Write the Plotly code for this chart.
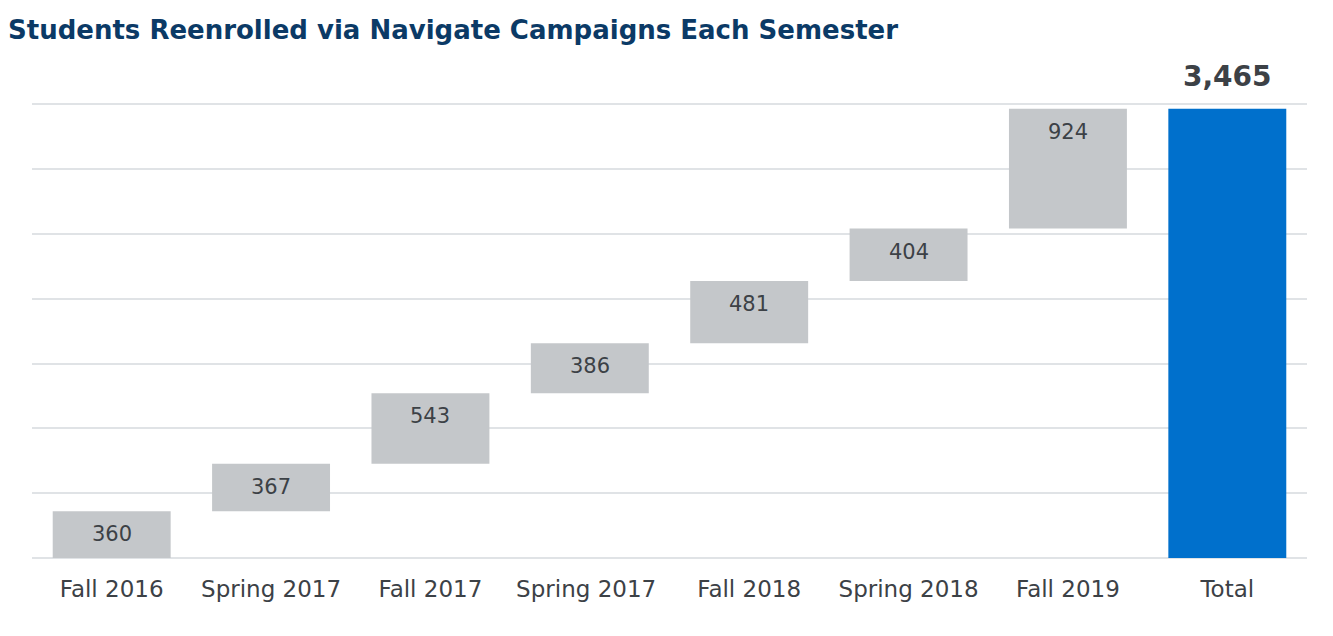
import plotly.graph_objects as go

# semesters and reenrolled students
semesters = ["Fall 2016", "Spring 2017", "Fall 2017", "Spring 2017 ", "Fall 2018", "Spring 2018", "Fall 2019"]
reenrolled = [360, 367, 543, 386, 481, 404, 924]
total_label = "Total"

total = sum(reenrolled)

x = semesters + [total_label]
y = reenrolled + [0]
measure = ["relative"] * len(reenrolled) + ["total"]

fig = go.Figure(go.Waterfall(
    x=x,
    y=y,
    measure=measure,
    increasing=dict(marker=dict(color="#c4c7ca")),
    totals=dict(marker=dict(color="#0070cc")),
    connector=dict(visible=False),
    width=0.74,
    hoverinfo="x+y",
))

# value labels near the top of each step
running = 0
for name, v in zip(semesters, reenrolled):
    running += v
    fig.add_annotation(
        x=name, y=running, text=f"{v:,}",
        showarrow=False, yanchor="top", yshift=-9,
        font=dict(family="DejaVu Sans", size=21, color="#3c4146"),
    )

# total value above the blue bar
fig.add_annotation(
    x=total_label, y=total, text=f"<b>{total:,}</b>",
    showarrow=False, yanchor="bottom", yshift=14,
    font=dict(family="DejaVu Sans", size=28, color="#3c4146"),
)

fig.update_layout(
    width=1325, height=628,
    margin=dict(l=24, r=26, t=95, b=78),
    paper_bgcolor="white", plot_bgcolor="white",
    showlegend=False,
    title=dict(
        text="<b>Students Reenrolled via Navigate Campaigns Each Semester</b>",
        x=0, xanchor="left", y=0.965, yanchor="middle",
        font=dict(family="DejaVu Sans", size=26, color="#0b3a66"),
    ),
    xaxis=dict(
        tickfont=dict(family="DejaVu Sans", size=23, color="#3c4146"),
        showgrid=False, showline=False, ticks="", ticklabelstandoff=15,
    ),
    yaxis=dict(
        range=[0, 3510], dtick=500, showticklabels=False,
        gridcolor="#e0e3e6", gridwidth=1.5, zeroline=True,
        zerolinecolor="#e0e3e6", zerolinewidth=1.5,
    ),
)

fig.write_html("out.html")
